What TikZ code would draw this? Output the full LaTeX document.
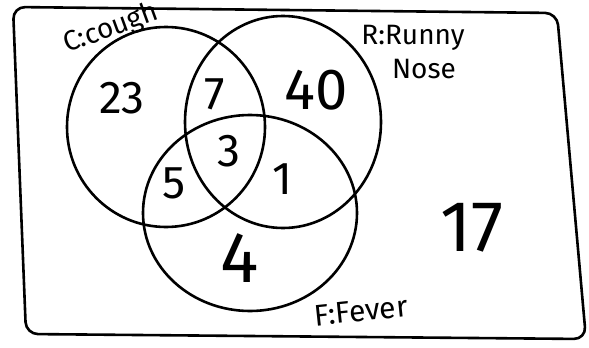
\documentclass[tikz,border=0pt]{standalone}
\usepackage{fontspec}
\setmainfont{Fira Sans}
\usetikzlibrary{shapes.geometric}
\begin{document}
\begin{tikzpicture}[x=1pt,y=-1pt,
  ink/.style={line width=2.6pt,black},
  setshape/.style={ink,draw,ellipse,inner sep=0pt},
  num/.style={font=\fontsize{46}{46}\selectfont,inner sep=0pt},
  bignum/.style={font=\fontsize{72}{72}\selectfont,inner sep=0pt},
  lab/.style={font=\fontsize{28}{28}\selectfont,inner sep=0pt}]
\useasboundingbox (0,0) rectangle (589,348);
% universe
\draw[ink,rounded corners=12pt] (13,7) -- (557,13) -- (586,339) -- (26,334) -- cycle;
% sets
\node[setshape,minimum width=198pt,minimum height=200pt] (C) at (166,127) {};
\node[setshape,minimum width=196pt,minimum height=212pt] (R) at (283,122) {};
\node[setshape,minimum width=214pt,minimum height=196pt] (F) at (250,213) {};
% labels
\node[lab,rotate=20] (Clab) at (111,29) {C:cough};
\node[lab] (Rlab1) at (413,38) {R:Runny};
\node[lab] (Rlab2) at (424,69) {Nose};
\node[lab,font=\fontsize{30}{30}\selectfont,rotate=6] (Flab) at (361,311) {F:Fever};
% counts
\node[num] (n23) at (122,98) {23};
\node[num] (n7) at (215,94) {7};
\node[num,font=\fontsize{58}{58}\selectfont] (n40) at (316,90) {40};
\node[num] (n3) at (229,151) {3};
\node[num] (n5) at (174,183) {5};
\node[num] (n1) at (282,179) {1};
\node[bignum] (n4) at (240,258) {4};
\node[bignum] (n17) at (472,228) {17};
\end{tikzpicture}
\end{document}
